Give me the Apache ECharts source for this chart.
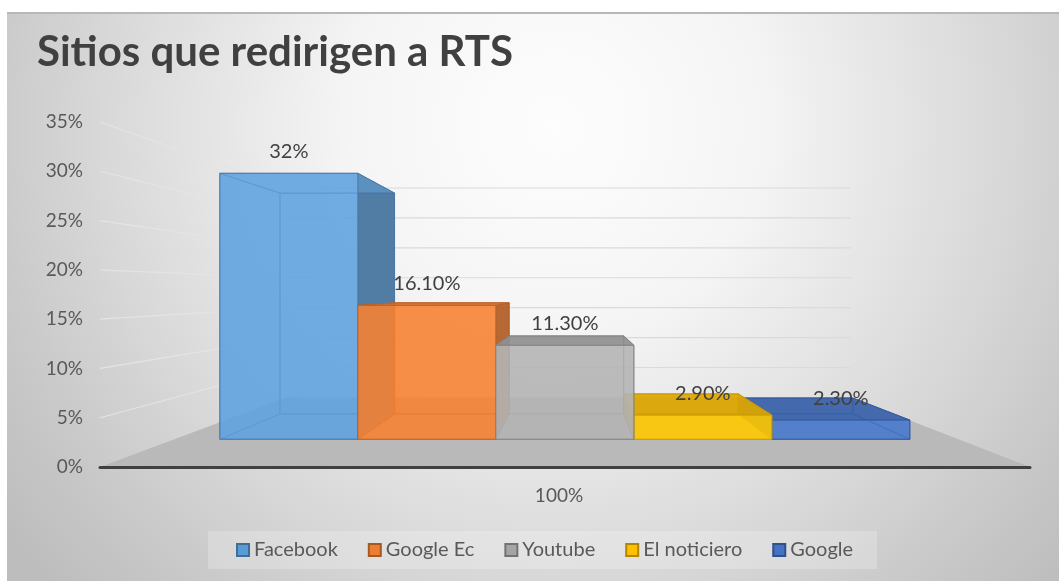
<!DOCTYPE html>
<html><head><meta charset="utf-8">
<script src="https://cdn.jsdelivr.net/npm/echarts@6/dist/echarts.min.js"></script>
<style>html,body{margin:0;padding:0;background:#fff}#c{width:1059px;height:581px}</style>
</head><body><div id="c"></div>
<script>
// ---- data ----
const titleText = 'Sitios que redirigen a RTS';
const categories = ['100%'];
const seriesNames = ['Facebook', 'Google Ec', 'Youtube', 'El noticiero', 'Google'];
const seriesValues = [32, 16.1, 11.3, 2.9, 2.3];
const valueLabels = ['32%', '16.10%', '11.30%', '2.90%', '2.30%'];
const yTicks = [0, 5, 10, 15, 20, 25, 30, 35];
const yMin = 0, yMax = 35, yStep = 5;

// ---- style ----
const palette = ['#5b9bd5', '#ed7d31', '#a5a5a5', '#ffc000', '#4472c4'];
const frontBoost = [1.05, 1.05, 1.1, 1.05, 1.05];
const drawZ = [2, 3, 6, 5, 4];
const FONT = 'Lato';
const VP = [574, 290];           // vanishing point of the perspective
const S_FRONT = 0.843, S_BACK = 0.70, S_WALL = 0.607;
const BAR_START = 0.058, BAR_W = 0.176;

function hexRgb(h) { h = h.replace('#', ''); return [0, 2, 4].map(i => parseInt(h.substr(i, 2), 16)); }
function rgba(h, a, f) { f = f || 1; const c = hexRgb(h).map(v => Math.round(Math.min(255, v * f))); return 'rgba(' + c.join(',') + ',' + a + ')'; }
function proj(x, y, s) { return [VP[0] + s * (x - VP[0]), VP[1] + s * (y - VP[1])]; }

function barGeom(api, idx, v) {
  const base = api.coord([0, 0]);
  const top = api.coord([0, v]);
  const band = api.size([1, 0])[0];
  const x0 = base[0] - band / 2 + band * (BAR_START + idx * BAR_W);
  return { x0: x0, x1: x0 + band * BAR_W, y0: base[1], y1: top[1] };
}

function barRenderer(i) {
  return function (params, api) {
    const g = barGeom(api, i, api.value(1));
    const c = palette[i];
    const f = [proj(g.x0, g.y0, S_FRONT), proj(g.x1, g.y0, S_FRONT), proj(g.x1, g.y1, S_FRONT), proj(g.x0, g.y1, S_FRONT)];
    const b = [proj(g.x0, g.y0, S_BACK), proj(g.x1, g.y0, S_BACK), proj(g.x1, g.y1, S_BACK), proj(g.x0, g.y1, S_BACK)];
    const edge = rgba(c, 0.85, 0.78);
    const hidden = rgba(c, 0.5);
    const face = (pts, fill) => ({ type: 'polygon', shape: { points: pts }, style: { fill: fill, stroke: edge, lineWidth: 1 } });
    const rightVis = g.x1 < VP[0], leftVis = g.x0 > VP[0], topVis = f[3][1] > VP[1];
    const kids = [
      face(b, rgba(c, 0.5)),
      face([f[0], f[1], b[1], b[0]], hidden),
      face([f[0], f[3], b[3], b[0]], leftVis ? rgba(c, 0.85, 0.72) : hidden),
      face([f[1], f[2], b[2], b[1]], rightVis ? rgba(c, 0.85, 0.72) : hidden),
      face([f[3], f[2], b[2], b[3]], topVis ? rgba(c, 0.85, 0.86) : hidden),
      face(f, rgba(c, 0.78, frontBoost[i]))
    ];
    return { type: 'group', children: kids };
  };
}

function labelRenderer(params, api) {
  const i = api.value(2);
  const g = barGeom(api, i, api.value(1));
  const a = proj(g.x0, g.y1, S_FRONT), b = proj(g.x1, g.y1, S_FRONT);
  return {
    type: 'text',
    style: { text: valueLabels[i], x: (a[0] + b[0]) / 2, y: a[1] - 22, align: 'center', verticalAlign: 'middle',
      fill: '#404040', font: '20px ' + FONT }
  };
}

function wallRenderer(params, api) {
  const v = api.value(1);
  const p = api.coord([0, v]);
  const band = api.size([1, 0])[0];
  const xl = p[0] - band / 2, xr = p[0] + band / 2;
  const bl = proj(xl, p[1], S_WALL), br = proj(xr, p[1], S_WALL);
  if (v === yMin) {
    return { type: 'polygon', shape: { points: [[xl, p[1]], [xr, p[1]], br, bl] }, style: { fill: '#b9b9b9' } };
  }
  return {
    type: 'group', children: [
      { type: 'line', shape: { x1: xl, y1: p[1], x2: bl[0], y2: bl[1] }, style: { stroke: '#e4e4e4', lineWidth: 1.2 } },
      { type: 'line', shape: { x1: bl[0], y1: bl[1], x2: br[0], y2: br[1] }, style: { stroke: '#dadada', lineWidth: 1.2 } }
    ]
  };
}

const series = [{
  type: 'custom', name: 'walls', z: 1, silent: true,
  data: yTicks.map(v => [0, v]), renderItem: wallRenderer
}];
seriesNames.forEach((n, i) => {
  series.push({
    type: 'custom', name: n, z: drawZ[i],
    itemStyle: { color: palette[i], borderColor: rgba(palette[i], 1, 0.7), borderWidth: 1 },
    data: [[0, seriesValues[i]]], renderItem: barRenderer(i)
  });
});
series.push({
  type: 'custom', name: 'labels', z: 20, silent: true,
  data: seriesValues.map((v, i) => [0, v, i]), renderItem: labelRenderer
});

const chart = echarts.init(document.getElementById('c'));
chart.setOption({
  animation: false,
  backgroundColor: '#ffffff',
  graphic: [
    { type: 'rect', z: -10, shape: { x: 7, y: 12, width: 1052, height: 569 },
      style: { fill: new echarts.graphic.RadialGradient(0.52, 0.2, 1.2, [
        { offset: 0, color: '#fdfdfd' }, { offset: 0.3, color: '#f5f5f5' }, { offset: 0.65, color: '#d9d9d9' },
        { offset: 0.85, color: '#c8c8c8' }, { offset: 1, color: '#bdbdbd' }]) } },
    { type: 'line', z: -9, shape: { x1: 7, y1: 13, x2: 1059, y2: 13 }, style: { stroke: '#b8b8b8', lineWidth: 2 } }
  ],
  title: { text: titleText, left: 32, top: 26,
    textStyle: { fontFamily: FONT, fontSize: 42, fontWeight: 'bold', color: '#404040' } },
  legend: {
    data: seriesNames, left: 208, top: 531, padding: [9, 24, 9, 28], itemGap: 30,
    backgroundColor: 'rgba(255,255,255,0.22)', icon: 'rect', itemWidth: 12, itemHeight: 12,
    textStyle: { fontFamily: FONT, fontSize: 20, color: '#595959' }
  },
  grid: { left: 100, right: 29, top: 122, bottom: 114 },
  xAxis: {
    type: 'category', data: categories, z: 10,
    axisLine: { lineStyle: { color: '#404040', width: 3 } }, axisTick: { show: false },
    axisLabel: { fontFamily: FONT, fontSize: 19, color: '#595959', margin: 19, padding: [0, 12, 0, 0] }
  },
  yAxis: {
    type: 'value', min: yMin, max: yMax, interval: yStep,
    axisLine: { show: false }, axisTick: { show: false }, splitLine: { show: false },
    axisLabel: { formatter: '{value}%', fontFamily: FONT, fontSize: 19, color: '#595959', margin: 17 }
  },
  series: series
});
</script></body></html>
